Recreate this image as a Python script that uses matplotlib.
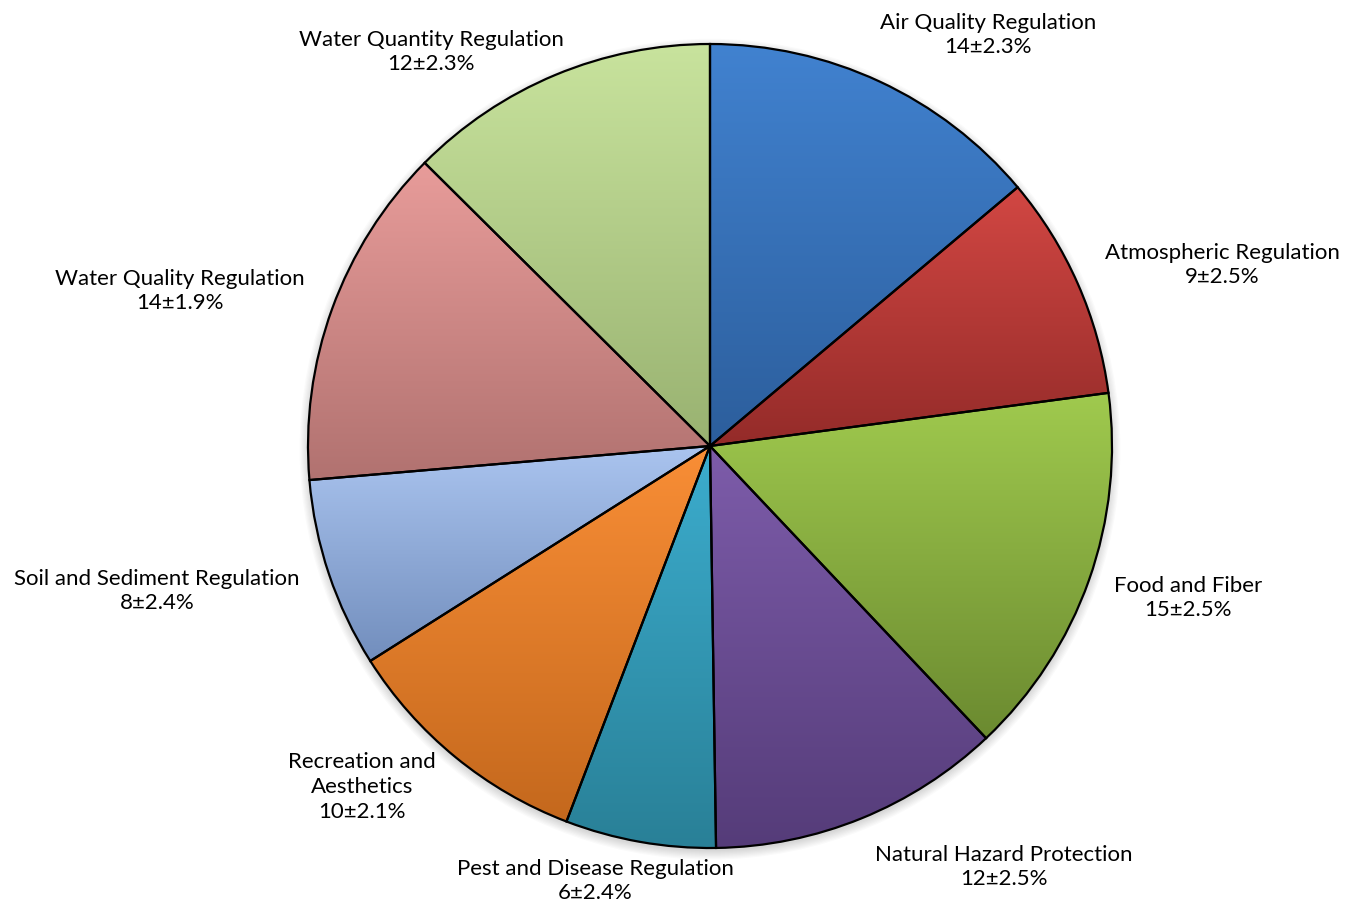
import numpy as np
import matplotlib.pyplot as plt
from matplotlib.colors import LinearSegmentedColormap

categories = ['Air Quality Regulation', 'Atmospheric Regulation', 'Food and Fiber',
              'Natural Hazard Protection', 'Pest and Disease Regulation',
              'Recreation and\nAesthetics', 'Soil and Sediment Regulation',
              'Water Quality Regulation', 'Water Quantity Regulation']
values = [14, 9, 15, 12, 6, 10, 8, 14, 12]          # printed (rounded) values
shares = [13.87, 9.02, 15.06, 11.81, 6.05, 10.21, 7.63, 13.79, 12.56]  # slice sizes
errors = [2.3, 2.5, 2.5, 2.5, 2.4, 2.1, 2.4, 1.9, 2.3]

# top / bottom colours of each slice gradient
tops = ['#4182d0', '#d24743', '#a0ca4e', '#7d5caa', '#3cadce', '#f98e36',
        '#aac4ef', '#e89c9a', '#c8e39d']
bottoms = ['#2c5e9c', '#942b29', '#6b8a30', '#553c79', '#298097', '#c4681d',
           '#728ebd', '#b17270', '#99b271']

W, H = 1355, 907
cx, cy, R = 710, 446, 402

# label centres in radius units
label_px = [(988, 35), (1222, 265), (1188, 598), (1004, 867), (595, 881),
            (362, 787), (157, 591), (180, 291), (431, 52)]
label_pos = [((x - cx) / R, (cy - y) / R) for x, y in label_px]

plt.rcParams['font.family'] = ['Lato', 'DejaVu Sans']

fig = plt.figure(figsize=(W / 100, H / 100), dpi=100)
ax = fig.add_axes([0, 0, 1, 1])

# soft shadow
for k in range(8):
    ax.add_patch(plt.Circle((0.0, -0.008), 1.0 + 0.003 * k, color='black',
                            alpha=0.02, lw=0, zorder=0))

wedges, _ = ax.pie(shares, startangle=90, counterclock=False, radius=1,
                   center=(0, 0), frame=True,
                   wedgeprops=dict(edgecolor='black', linewidth=1.6, facecolor='none'))
ax.set_xlim(-cx / R, (W - cx) / R)
ax.set_ylim(-(H - cy) / R, cy / R)
ax.set_aspect('equal')
ax.axis('off')

grad = np.linspace(0, 1, 256).reshape(-1, 1)
for w, c0, c1 in zip(wedges, tops, bottoms):
    w.set_zorder(3)
    verts = w.get_path().vertices
    x0, x1 = verts[:, 0].min(), verts[:, 0].max()
    y0, y1 = verts[:, 1].min(), verts[:, 1].max()
    cm = LinearSegmentedColormap.from_list('g', [c1, c0])
    im = ax.imshow(grad, cmap=cm, extent=(x0, x1, y0, y1), origin='lower',
                   aspect='auto', zorder=2, interpolation='bicubic')
    im.set_clip_path(w)

for name, v, e, (lx, ly) in zip(categories, values, errors, label_pos):
    ax.text(lx, ly, f'{name}\n{v}\u00b1{e}%', ha='center', va='center',
            fontsize=16, linespacing=1.3, color='black')

fig.savefig('out.png', dpi=100)
